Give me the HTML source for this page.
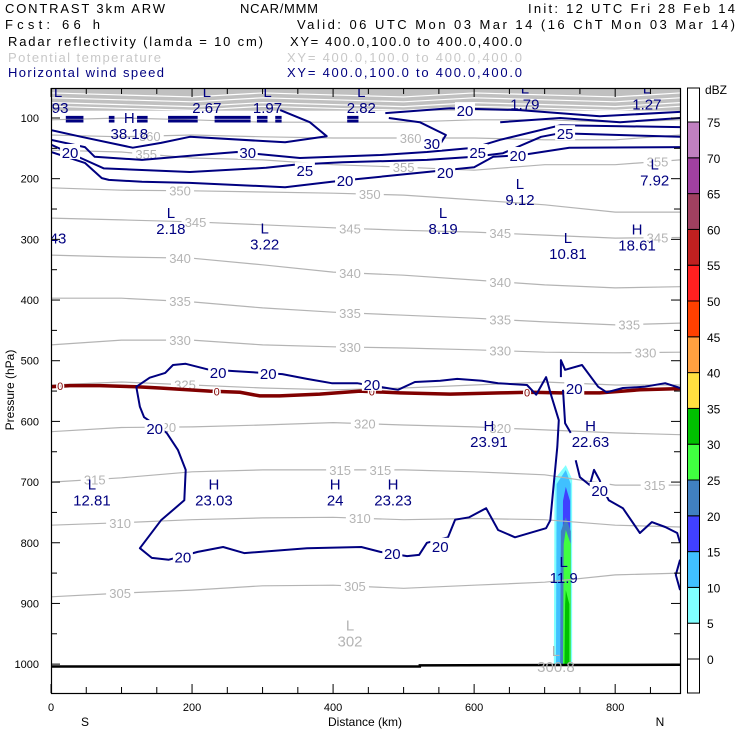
<!DOCTYPE html>
<html><head><meta charset="utf-8"><style>
html,body{margin:0;padding:0;background:#fff}
svg{display:block}
text{font-family:"Liberation Sans",sans-serif}
</style></head><body>
<svg id="c" width="740" height="740" viewBox="0 0 740 740" xmlns="http://www.w3.org/2000/svg">
<g font-size="13">
<text x="5" y="13" textLength="160">CONTRAST  3km ARW</text>
<text x="240" y="13" textLength="78">NCAR/MMM</text>
<text x="528" y="13" textLength="207">Init: 12 UTC Fri 28 Feb 14</text>
<text x="5" y="29" textLength="95">Fcst:    66 h</text>
<text x="297" y="29" textLength="438">Valid: 06 UTC Mon 03 Mar 14 (16 ChT Mon 03 Mar 14)</text>
<text x="8" y="46" textLength="255">Radar reflectivity (lamda = 10 cm)</text>
<text x="290" y="46" textLength="232">XY= 400.0,100.0 to 400.0,400.0</text>
<text x="8" y="62" textLength="153" fill="#c8c8c8">Potential temperature</text>
<text x="287" y="62" textLength="235" fill="#c8c8c8">XY= 400.0,100.0 to 400.0,400.0</text>
<text x="8" y="77" textLength="156" fill="#000080">Horizontal wind speed</text>
<text x="287" y="77" textLength="235" fill="#000080">XY= 400.0,100.0 to 400.0,400.0</text>
</g>
<g id="plot"></g>
<g id="axes"></g>
<g id="cbar"></g>
</svg>
<script>
// ---- data ----
const kmGrid = [0,100,200,300,400,500,600,700,800,892];
const thetaLevels = [305,310,315,320,325,330,335,340,345,350,355,360,365];
const thetaP305 = [889,883,878,871,870,875,870,865,853,850];
const thetaP310 = [771,767,762,759,758,762,760,762,771,774];
const thetaP315 = [700,693,683,680,680,680,683,688,705,705];
const thetaP320 = [617,610,609,606,602,606,609,614,619,622];
const thetaP325 = [540,535,540,545,548,545,540,535,540,540];
const thetaP330 = [474,466,466,474,477,479,482,486,487,486];
const thetaP335 = [397,397,403,413,420,425,430,436,441,438];
const thetaP340 = [326,329,331,342,354,359,367,375,380,378];
const thetaP345 = [265,268,271,276,281,285,288,293,298,297];
const thetaP350 = [215,219,220,222,224,227,235,243,255,255];
const thetaP355 = [153,156,166,169,177,181,186,177,177,169];
const thetaP360 = [128,131,128,131,133,133,133,136,136,128];
const thetaP365 = [103,100,103,107,107,107,103,103,107,103];
const thetaLabelKm = {305:[98,431],310:[98,438],315:[62,410,467,856],320:[162,445,637],325:[190],330:[183,424,637,843],335:[183,424,637,820],340:[183,424,637],345:[205,424,637,860],350:[183,452],355:[135,500,860],360:[140,510]};

// wind speed contours: [km, hPa] pairs
const windN1 = [[0,156],[48,174],[72,199],[82,202],[129,205],[197,207],[332,214],[398,205],[423,202],[533,189],[600,181],[627,164],[668,161],[735,149],[892,148]];
const windN2 = [[0,144],[48,169],[75,183],[197,189],[305,182],[345,177],[413,173],[533,169],[600,164],[641,158],[695,131],[722,125],[892,131]];
const windN3 = [[0,136],[48,148],[62,164],[129,169],[210,161],[264,156],[353,166],[467,161],[533,156],[600,149],[637,136],[722,112],[892,115]];
const windN4 = [[0,120],[43,131],[116,149],[156,141],[197,131],[332,140],[391,130],[367,107],[325,87]];
const windN5 = [[479,100],[523,107],[560,128],[553,141]];
const windN6 = [[474,92],[566,84],[665,87],[778,97],[892,90]];
const windN7 = [[637,107],[722,100],[807,107],[892,100]];
const windM1 = [[708,552],[702,527],[688,556],[675,540],[634,537],[611,533],[576,530],[552,533],[516,535],[492,548],[434,537],[398,537],[363,530],[328,522],[257,517],[221,514],[191,505],[173,507],[162,520],[140,528],[121,543],[126,576],[132,593],[164,619],[180,647],[191,680],[189,730],[156,763],[126,809],[143,825],[167,828],[208,815],[244,807],[274,817],[363,809],[440,807],[467,815],[505,822],[522,820],[533,800],[563,791],[573,762],[593,758],[617,743],[634,779],[658,791],[702,776],[708,763],[718,642],[720,598],[710,560],[708,552]];
const windM3 = [[723,527],[723,499],[729,515],[753,507],[776,543],[788,552],[811,545],[841,543],[871,537],[892,545]];
const windM3b = [[726,548],[729,603],[737,619]];
const windM4 = [[744,664],[750,692],[764,705],[770,680],[778,697],[781,708],[791,730],[811,743],[835,784],[852,766],[871,774],[888,784],[892,800]];
const windM5 = [[892,828],[886,853],[892,878]];
const windLines = [windN1,windN2,windN3,windN4,windN5,windN6,windN7,windM1,windM3,windM3b,windM4,windM5];
const windLabelText = ["20","25","30","30","20","20","25","25","20","20","20","20","20","20","20","20","20","20","20"];
const windLabelKm  = [27,360,279,540,587,662,605,729,417,559,237,308,455,147,187,484,552,778,742];
const windLabelP   = [156,186,156,141,87,161,156,125,202,189,519,520,538,611,823,817,805,713,545];

// freezing level (0 contour, dark red)
const zeroKm = [0,27,69,121,154,225,268,296,324,381,438,495,566,637,679,722,778,835,892];
const zeroP  = [543,541,541,543,545,550,552,558,558,555,550,553,555,553,552,553,553,548,546];
const zeroLabelKm = [13,235,455,675];

// extrema labels
const extText = ["L\n.93","H\n","L\n2.67","L\n1.97","L\n2.82","L\n1.79","L\n1.27","43","L\n2.18","L\n3.22","L\n8.19","L\n9.12","L\n10.81","H\n18.61","L\n7.92","H\n23.91","H\n22.63","L\n12.81","H\n23.03","H\n24","H\n23.23","L\n11.9"];
const extKm   = [10,111,221,307,440,672,845,10,170,303,556,665,733,831,856,621,765,58,231,403,485,727];
const extP    = [65,108,65,65,65,60,60,290,265,290,265,217,306,292,185,616,616,712,712,712,712,840];
const extSub  = ["","38.18","","","","","","","","","","","","","","","","","","","",""];
const grayExtText = ["L\n302","L\n300.8"];
const grayExtKm = [424,716];
const grayExtP = [945,987];

// reflectivity column (dBZ thresholds)
const reflLevels = [5,10,15,20,25,30];
const reflTopP   = [672,680,708,758,779,878];
const reflLeftKm = [713,716,725,722,726,728];
const reflRightKm= [739,737,736,737,737,735];
const reflCenterKm = 730;

// colorbar
const cbLevels = [0,5,10,15,20,25,30,35,40,45,50,55,60,65,70,75];
const cbColors = ["#ffffff","#80ffff","#40c0ff","#4040ff","#4080c0","#40ff40","#00c000","#ffe040","#ffa040","#ff4000","#ff2020","#c02020","#a04060","#a040a0","#c080c0","#ffffff"];

const xTicks = [0,200,400,600,800];
const yTicks = [100,200,300,400,500,600,700,800,900,1000];

// ---- scales ----
const X0=51, X1=680, Y0=88, Y1=693;
const xs = km => 51 + km/1.418;
const ys = p => 118 + (p-100)/1.648;
const NS="http://www.w3.org/2000/svg";
function mk(tag, attrs, parent){const e=document.createElementNS(NS,tag);for(const k in attrs)e.setAttribute(k,attrs[k]);parent.appendChild(e);return e;}
const plot=document.getElementById('plot'), axes=document.getElementById('axes'), cbar=document.getElementById('cbar');

const defs=mk('defs',{},plot);
const cp=mk('clipPath',{id:'clip'},defs);
mk('rect',{x:X0,y:Y0,width:X1-X0,height:Y1-Y0},cp);
const g=mk('g',{'clip-path':'url(#clip)'},plot);

// gray top band
const band=mk('rect',{x:X0,y:Y0,width:X1-X0,height:ys(88)-Y0,fill:'#c0c0c0'},g);


[62,70,78,84].forEach(p=>{const l=mk('path',{d:kmGrid.map((k,i)=>(i?'L':'M')+xs(k)+','+(ys(p)+((i%3)-1)*2)).join(''),stroke:'#fff',fill:'none','stroke-width':1.2},g);

});

// reflectivity
reflLevels.forEach((lv,i)=>{
  const yt=ys(reflTopP[i]), sh=yt+14, yb=ys(1003);
  const pth='M'+xs(reflLeftKm[i])+','+yb+'L'+xs(reflLeftKm[i]+1)+','+sh+'L'+xs(reflCenterKm)+','+yt+'L'+xs(reflRightKm[i])+','+sh+'L'+xs(reflRightKm[i])+','+yb+'Z';
  const e=mk('path',{d:pth,fill:cbColors[cbLevels.indexOf(lv)]},g);
  
  
});

// theta contours
const thetaArrs={305:thetaP305,310:thetaP310,315:thetaP315,320:thetaP320,325:thetaP325,330:thetaP330,335:thetaP335,340:thetaP340,345:thetaP345,350:thetaP350,355:thetaP355,360:thetaP360,365:thetaP365};
function interp(arr,km){for(let i=0;i<kmGrid.length-1;i++){if(km<=kmGrid[i+1]){const t=(km-kmGrid[i])/(kmGrid[i+1]-kmGrid[i]);return arr[i]+t*(arr[i+1]-arr[i]);}}return arr[arr.length-1];}
thetaLevels.forEach(lv=>{
  const arr=thetaArrs[lv];
  const e=mk('path',{d:arr.map((p,i)=>(i?'L':'M')+xs(kmGrid[i]).toFixed(1)+','+ys(p).toFixed(1)).join(''),stroke:'#b4b4b4',fill:'none','stroke-width':1.2},g);
  
  
  (thetaLabelKm[lv]||[]).forEach(k=>{
    const x=xs(k), y=ys(interp(arr,k));
    mk('rect',{x:x-14,y:y-7,width:28,height:13,fill:'#fff'},g);
    const t=mk('text',{x:x,y:y+5,'text-anchor':'middle','font-size':13,fill:'#b4b4b4'},g);
    t.textContent=lv;
    
    
  });
});

// top bars (dense wind contours near tropopause)
[[21,46],[82,90],[122,137],[166,208],[232,283],[292,307],[318,327],[420,436]].forEach(b=>{
  [99,105].forEach(p=>{const e=mk('line',{x1:xs(b[0]),x2:xs(b[1]),y1:ys(p),y2:ys(p),stroke:'#000080','stroke-width':3},g);
  
  });
});

// freezing line
const zl=mk('path',{d:zeroKm.map((k,i)=>(i?'L':'M')+xs(k).toFixed(1)+','+ys(zeroP[i]).toFixed(1)).join(''),stroke:'#800000',fill:'none','stroke-width':3.5},g);


zeroLabelKm.forEach(k=>{
  let p=zeroP[0];for(let i=0;i<zeroKm.length-1;i++){if(k<=zeroKm[i+1]){p=zeroP[i]+(k-zeroKm[i])/(zeroKm[i+1]-zeroKm[i])*(zeroP[i+1]-zeroP[i]);break;}}
  const t=mk('text',{x:xs(k),y:ys(p)+4,'text-anchor':'middle','font-size':11,fill:'#800000',stroke:'#fff','stroke-width':3,'paint-order':'stroke'},g);
  t.textContent='0';
  
  
});

// wind contours
windLines.forEach((ln,j)=>{
  const e=mk('path',{d:ln.map((pt,i)=>(i?'L':'M')+xs(pt[0]).toFixed(1)+','+ys(pt[1]).toFixed(1)).join(''),stroke:'#000080',fill:'none','stroke-width':2,'stroke-linejoin':'round'},g);
  
  
});
windLabelText.forEach((s,i)=>{
  const x=xs(windLabelKm[i]), y=ys(windLabelP[i]);
  mk('rect',{x:x-10,y:y-8,width:20,height:15,fill:'#fff'},g);
  const t=mk('text',{x:x,y:y+6,'text-anchor':'middle','font-size':15,fill:'#000080'},g);
  t.textContent=s;
  
  
});

// ground line
const gl=mk('path',{d:'M'+X0+','+ys(1004)+'L'+xs(523)+','+ys(1004)+'L'+xs(523)+','+ys(1002)+'L'+X1+','+ys(1001),stroke:'#000',fill:'none','stroke-width':2.5},g);



// extrema labels
function multi(txt,x,y,color,sub,name){
  const parts=txt.split('\n');
  if(sub)parts[1]=sub;
  parts.forEach((s,i)=>{ if(!s)return;
    const t=mk('text',{x:x,y:y+i*16,'text-anchor':'middle','font-size':15,fill:color},g);
    t.textContent=s;
    
    
  });
}
extText.forEach((s,i)=>{
  if(s.indexOf('\n')<0){multi('\n'+s,xs(extKm[i]),ys(extP[i])-6,'#000080','', 'extremum-label');return;}
  multi(s,xs(extKm[i]),ys(extP[i]),'#000080',extSub[i],'extremum-label');
});
grayExtText.forEach((s,i)=>multi(s,xs(grayExtKm[i]),ys(grayExtP[i]),'#b4b4b4','','theta-extremum-label'));

// frame
const fr=mk('rect',{x:X0+0.5,y:Y0+0.5,width:X1-X0,height:Y1-Y0,fill:'none',stroke:'#000','stroke-width':1.2},axes);


for(let km=0;km<=892;km+=50){
  const x=xs(km), L=(km%200===0)?9:6;
  mk('line',{x1:x,x2:x,y1:Y1,y2:Y1-L,stroke:'#000'},axes);
  mk('line',{x1:x,x2:x,y1:Y0,y2:Y0+L,stroke:'#000'},axes);
}
for(let p=100;p<=1000;p+=50){
  const y=ys(p), L=(p%100===0)?9:6;
  mk('line',{x1:X0,x2:X0+L,y1:y,y2:y,stroke:'#000'},axes);
  mk('line',{x1:X1,x2:X1-L,y1:y,y2:y,stroke:'#000'},axes);
}
xTicks.forEach(v=>{const t=mk('text',{x:xs(v),y:711,'text-anchor':'middle','font-size':11},axes);t.textContent=v;

});
yTicks.forEach(v=>{const t=mk('text',{x:39,y:ys(v)+4,'text-anchor':'end','font-size':11},axes);t.textContent=v;

});
[['S',85,726,'south-label'],['N',660,726,'north-label'],['Distance (km)',365,726,'x-axis-title']].forEach(a=>{
  const t=mk('text',{x:a[1],y:a[2],'text-anchor':'middle','font-size':12},axes);t.textContent=a[0];
  
  });
const yt=mk('text',{x:0,y:0,'text-anchor':'middle','font-size':12,transform:'translate(14,390) rotate(-90)'},axes);
yt.textContent='Pressure (hPa)';



// colorbar
const cbTop=88, cbBot=693, c0=659, step=35.8;
const segs=[[cbBot,c0,'#ffffff']];
for(let i=0;i<cbLevels.length;i++){
  const yb=c0-i*step, yt2=(i===cbLevels.length-1)?cbTop:c0-(i+1)*step;
  segs.push([yb,yt2,cbColors[i]]);
}
segs.forEach(s=>{const r=mk('rect',{x:687.5,y:s[1],width:12,height:s[0]-s[1],fill:s[2],stroke:'#000','stroke-width':1},cbar);

});
cbLevels.forEach((v,i)=>{const t=mk('text',{x:707,y:c0-i*step+5,'font-size':12},cbar);t.textContent=v;

});
const u=mk('text',{x:705,y:94,'font-size':12},cbar);u.textContent='dBZ';


</script>
</body></html>
